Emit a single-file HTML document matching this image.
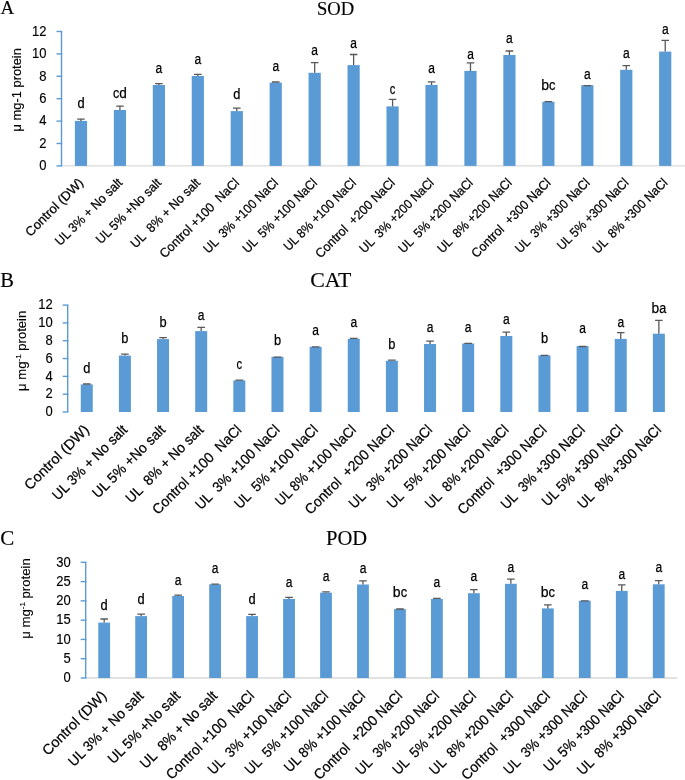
<!DOCTYPE html>
<html><head><meta charset="utf-8"><style>
html,body{margin:0;padding:0;background:#fff;}
body{width:685px;height:780px;overflow:hidden;}
svg{display:block;will-change:transform;}
svg text{font-family:"Liberation Sans", sans-serif;fill:#000;white-space:pre;stroke:#000;stroke-width:0.15px;}
svg text.serif{font-family:"Liberation Serif", serif;}
svg text.xl{stroke-width:0.25px;}
svg text.lt{stroke-width:0.25px;}
</style></head><body>
<svg width="685" height="780" viewBox="0 0 685 780">
<text x="0.5" y="13.9" class="serif" font-size="19">A</text>
<text x="317.0" y="14.5" class="serif" font-size="19.5" textLength="37.2" lengthAdjust="spacingAndGlyphs">SOD</text>
<line x1="61.5" y1="165.9" x2="685" y2="165.9" stroke="#D9D9D9" stroke-width="1.3"/>
<rect x="74.88" y="120.9" width="12.2" height="45.00" fill="#5B9BD5"/>
<path d="M80.97 120.9 V119.10 M77.17 119.10 H84.77" stroke="#595959" stroke-width="1.3" fill="none"/>
<text x="80.97" y="108.10" text-anchor="middle" class="lt" font-size="13.5" textLength="7.15" lengthAdjust="spacingAndGlyphs"><tspan font-size="15.3">d</tspan></text>
<rect x="113.83" y="110" width="12.2" height="55.90" fill="#5B9BD5"/>
<path d="M119.93 110 V106.10 M116.13 106.10 H123.73" stroke="#595959" stroke-width="1.3" fill="none"/>
<text x="119.93" y="97.60" text-anchor="middle" class="lt" font-size="13.5" textLength="13.80" lengthAdjust="spacingAndGlyphs"><tspan font-size="14">c</tspan><tspan font-size="15.3">d</tspan></text>
<rect x="152.78" y="85" width="12.2" height="80.90" fill="#5B9BD5"/>
<path d="M158.88 85 V83.60 M155.07 83.60 H162.68" stroke="#595959" stroke-width="1.3" fill="none"/>
<text x="158.88" y="73.10" text-anchor="middle" class="lt" font-size="13.5" textLength="6.69" lengthAdjust="spacingAndGlyphs"><tspan font-size="14">a</tspan></text>
<rect x="191.73" y="76" width="12.2" height="89.90" fill="#5B9BD5"/>
<path d="M197.83 76 V74.30 M194.03 74.30 H201.63" stroke="#595959" stroke-width="1.3" fill="none"/>
<text x="197.83" y="63.90" text-anchor="middle" class="lt" font-size="13.5" textLength="6.69" lengthAdjust="spacingAndGlyphs"><tspan font-size="14">a</tspan></text>
<rect x="230.68" y="111.1" width="12.2" height="54.80" fill="#5B9BD5"/>
<path d="M236.78 111.1 V108.20 M232.97 108.20 H240.58" stroke="#595959" stroke-width="1.3" fill="none"/>
<text x="236.78" y="99.10" text-anchor="middle" class="lt" font-size="13.5" textLength="7.15" lengthAdjust="spacingAndGlyphs"><tspan font-size="15.3">d</tspan></text>
<rect x="269.62" y="82.6" width="12.2" height="83.30" fill="#5B9BD5"/>
<path d="M275.73 82.6 V82.00 M271.93 82.00 H279.53" stroke="#595959" stroke-width="1.3" fill="none"/>
<text x="275.73" y="70.60" text-anchor="middle" class="lt" font-size="13.5" textLength="6.69" lengthAdjust="spacingAndGlyphs"><tspan font-size="14">a</tspan></text>
<rect x="308.57" y="72.8" width="12.2" height="93.10" fill="#5B9BD5"/>
<path d="M314.68 72.8 V62.60 M310.88 62.60 H318.48" stroke="#595959" stroke-width="1.3" fill="none"/>
<text x="314.68" y="55.40" text-anchor="middle" class="lt" font-size="13.5" textLength="6.69" lengthAdjust="spacingAndGlyphs"><tspan font-size="14">a</tspan></text>
<rect x="347.52" y="65.1" width="12.2" height="100.80" fill="#5B9BD5"/>
<path d="M353.62 65.1 V54.50 M349.82 54.50 H357.43" stroke="#595959" stroke-width="1.3" fill="none"/>
<text x="353.62" y="48.00" text-anchor="middle" class="lt" font-size="13.5" textLength="6.69" lengthAdjust="spacingAndGlyphs"><tspan font-size="14">a</tspan></text>
<rect x="386.48" y="106.4" width="12.2" height="59.50" fill="#5B9BD5"/>
<path d="M392.58 106.4 V99.30 M388.78 99.30 H396.38" stroke="#595959" stroke-width="1.3" fill="none"/>
<text x="392.58" y="94.00" text-anchor="middle" class="lt" font-size="13.5" textLength="5.60" lengthAdjust="spacingAndGlyphs"><tspan font-size="14">c</tspan></text>
<rect x="425.43" y="84.9" width="12.2" height="81.00" fill="#5B9BD5"/>
<path d="M431.53 84.9 V81.80 M427.73 81.80 H435.33" stroke="#595959" stroke-width="1.3" fill="none"/>
<text x="431.53" y="73.00" text-anchor="middle" class="lt" font-size="13.5" textLength="6.69" lengthAdjust="spacingAndGlyphs"><tspan font-size="14">a</tspan></text>
<rect x="464.38" y="70.9" width="12.2" height="95.00" fill="#5B9BD5"/>
<path d="M470.48 70.9 V62.90 M466.68 62.90 H474.28" stroke="#595959" stroke-width="1.3" fill="none"/>
<text x="470.48" y="58.70" text-anchor="middle" class="lt" font-size="13.5" textLength="6.69" lengthAdjust="spacingAndGlyphs"><tspan font-size="14">a</tspan></text>
<rect x="503.32" y="55" width="12.2" height="110.90" fill="#5B9BD5"/>
<path d="M509.43 55 V51.00 M505.62 51.00 H513.23" stroke="#595959" stroke-width="1.3" fill="none"/>
<text x="509.43" y="42.60" text-anchor="middle" class="lt" font-size="13.5" textLength="6.69" lengthAdjust="spacingAndGlyphs"><tspan font-size="14">a</tspan></text>
<rect x="542.27" y="101.8" width="12.2" height="64.10" fill="#5B9BD5"/>
<path d="M548.38 101.8 V101.70 M544.58 101.70 H552.17" stroke="#595959" stroke-width="1.3" fill="none"/>
<text x="548.38" y="89.60" text-anchor="middle" class="lt" font-size="13.5" textLength="14.27" lengthAdjust="spacingAndGlyphs"><tspan font-size="15.3">b</tspan><tspan font-size="14">c</tspan></text>
<rect x="581.23" y="85.2" width="12.2" height="80.70" fill="#5B9BD5"/>
<path d="M587.33 85.2 V85.60 M583.53 85.60 H591.12" stroke="#595959" stroke-width="1.3" fill="none"/>
<text x="587.33" y="78.80" text-anchor="middle" class="lt" font-size="13.5" textLength="6.69" lengthAdjust="spacingAndGlyphs"><tspan font-size="14">a</tspan></text>
<rect x="620.18" y="69.8" width="12.2" height="96.10" fill="#5B9BD5"/>
<path d="M626.28 69.8 V65.70 M622.48 65.70 H630.08" stroke="#595959" stroke-width="1.3" fill="none"/>
<text x="626.28" y="57.80" text-anchor="middle" class="lt" font-size="13.5" textLength="6.69" lengthAdjust="spacingAndGlyphs"><tspan font-size="14">a</tspan></text>
<rect x="659.12" y="51.6" width="12.2" height="114.30" fill="#5B9BD5"/>
<path d="M665.23 51.6 V40.30 M661.43 40.30 H669.02" stroke="#595959" stroke-width="1.3" fill="none"/>
<text x="665.23" y="34.20" text-anchor="middle" class="lt" font-size="13.5" textLength="6.69" lengthAdjust="spacingAndGlyphs"><tspan font-size="14">a</tspan></text>
<line x1="61.5" y1="31.5" x2="61.5" y2="165.9" stroke="#5B9BD5" stroke-width="1.4"/>
<line x1="56.5" y1="165.90" x2="62.2" y2="165.90" stroke="#5B9BD5" stroke-width="1.4"/>
<text x="46.5" y="170.10" text-anchor="end" font-size="14" textLength="7.23" lengthAdjust="spacingAndGlyphs">0</text>
<line x1="56.5" y1="143.50" x2="62.2" y2="143.50" stroke="#5B9BD5" stroke-width="1.4"/>
<text x="46.5" y="147.70" text-anchor="end" font-size="14" textLength="7.23" lengthAdjust="spacingAndGlyphs">2</text>
<line x1="56.5" y1="121.10" x2="62.2" y2="121.10" stroke="#5B9BD5" stroke-width="1.4"/>
<text x="46.5" y="125.30" text-anchor="end" font-size="14" textLength="7.23" lengthAdjust="spacingAndGlyphs">4</text>
<line x1="56.5" y1="98.70" x2="62.2" y2="98.70" stroke="#5B9BD5" stroke-width="1.4"/>
<text x="46.5" y="102.90" text-anchor="end" font-size="14" textLength="7.23" lengthAdjust="spacingAndGlyphs">6</text>
<line x1="56.5" y1="76.30" x2="62.2" y2="76.30" stroke="#5B9BD5" stroke-width="1.4"/>
<text x="46.5" y="80.50" text-anchor="end" font-size="14" textLength="7.23" lengthAdjust="spacingAndGlyphs">8</text>
<line x1="56.5" y1="53.90" x2="62.2" y2="53.90" stroke="#5B9BD5" stroke-width="1.4"/>
<text x="46.5" y="58.10" text-anchor="end" font-size="14" textLength="14.46" lengthAdjust="spacingAndGlyphs">10</text>
<line x1="56.5" y1="31.50" x2="62.2" y2="31.50" stroke="#5B9BD5" stroke-width="1.4"/>
<text x="46.5" y="35.70" text-anchor="end" font-size="14" textLength="14.46" lengthAdjust="spacingAndGlyphs">12</text>
<text transform="translate(21.3,89.8) rotate(-90)" text-anchor="middle" font-size="12.9">μ mg-1 protein</text>
<text transform="translate(84.17,183.5) rotate(-45)" class="xl" text-anchor="end" font-size="12.9" textLength="75.91" lengthAdjust="spacingAndGlyphs" xml:space="preserve">Control (DW)</text>
<text transform="translate(123.13,183.5) rotate(-45)" class="xl" text-anchor="end" font-size="12.9" textLength="88.79" lengthAdjust="spacingAndGlyphs" xml:space="preserve">UL 3% + No salt</text>
<text transform="translate(162.07,183.5) rotate(-45)" class="xl" text-anchor="end" font-size="12.9" textLength="86.27" lengthAdjust="spacingAndGlyphs" xml:space="preserve">UL 5% +No salt</text>
<text transform="translate(201.03,183.5) rotate(-45)" class="xl" text-anchor="end" font-size="12.9" textLength="92.37" lengthAdjust="spacingAndGlyphs" xml:space="preserve">UL  8% + No salt</text>
<text transform="translate(239.97,183.5) rotate(-45)" class="xl" text-anchor="end" font-size="12.9" textLength="106.46" lengthAdjust="spacingAndGlyphs" xml:space="preserve">Control +100  NaCl</text>
<text transform="translate(278.93,183.5) rotate(-45)" class="xl" text-anchor="end" font-size="12.9" textLength="99.59" lengthAdjust="spacingAndGlyphs" xml:space="preserve">UL  3% +100 NaCl</text>
<text transform="translate(317.88,183.5) rotate(-45)" class="xl" text-anchor="end" font-size="12.9" textLength="99.23" lengthAdjust="spacingAndGlyphs" xml:space="preserve">UL  5% +100 NaCl</text>
<text transform="translate(356.82,183.5) rotate(-45)" class="xl" text-anchor="end" font-size="12.9" textLength="96.34" lengthAdjust="spacingAndGlyphs" xml:space="preserve">UL 8% +100 NaCl</text>
<text transform="translate(395.78,183.5) rotate(-45)" class="xl" text-anchor="end" font-size="12.9" textLength="106.46" lengthAdjust="spacingAndGlyphs" xml:space="preserve">Control  +200 NaCl</text>
<text transform="translate(434.73,183.5) rotate(-45)" class="xl" text-anchor="end" font-size="12.9" textLength="99.30" lengthAdjust="spacingAndGlyphs" xml:space="preserve">UL  3% +200 NaCl</text>
<text transform="translate(473.68,183.5) rotate(-45)" class="xl" text-anchor="end" font-size="12.9" textLength="99.23" lengthAdjust="spacingAndGlyphs" xml:space="preserve">UL  5% +200 NaCl</text>
<text transform="translate(512.62,183.5) rotate(-45)" class="xl" text-anchor="end" font-size="12.9" textLength="99.30" lengthAdjust="spacingAndGlyphs" xml:space="preserve">UL  8% +200 NaCl</text>
<text transform="translate(551.58,183.5) rotate(-45)" class="xl" text-anchor="end" font-size="12.9" textLength="106.11" lengthAdjust="spacingAndGlyphs" xml:space="preserve">Control  +300 NaCl</text>
<text transform="translate(590.53,183.5) rotate(-45)" class="xl" text-anchor="end" font-size="12.9" textLength="99.30" lengthAdjust="spacingAndGlyphs" xml:space="preserve">UL  3% +300 NaCl</text>
<text transform="translate(629.48,183.5) rotate(-45)" class="xl" text-anchor="end" font-size="12.9" textLength="95.21" lengthAdjust="spacingAndGlyphs" xml:space="preserve">UL 5% +300 NaCl</text>
<text transform="translate(668.43,183.5) rotate(-45)" class="xl" text-anchor="end" font-size="12.9" textLength="99.94" lengthAdjust="spacingAndGlyphs" xml:space="preserve">UL  8% +300 NaCl</text>
<text x="0.3" y="286.8" class="serif" font-size="20.5">B</text>
<text x="310.2" y="287.4" class="serif" font-size="20" textLength="41.2" lengthAdjust="spacingAndGlyphs">CAT</text>
<rect x="80.77" y="384.4" width="12" height="27.60" fill="#5B9BD5"/>
<path d="M86.77 384.4 V384.00 M82.97 384.00 H90.57" stroke="#595959" stroke-width="1.3" fill="none"/>
<text x="86.77" y="372.60" text-anchor="middle" class="lt" font-size="13.5" textLength="7.15" lengthAdjust="spacingAndGlyphs"><tspan font-size="15.3">d</tspan></text>
<rect x="118.91" y="355.6" width="12" height="56.40" fill="#5B9BD5"/>
<path d="M124.91 355.6 V354.10 M121.11 354.10 H128.71" stroke="#595959" stroke-width="1.3" fill="none"/>
<text x="124.91" y="343.40" text-anchor="middle" class="lt" font-size="13.5" textLength="7.15" lengthAdjust="spacingAndGlyphs"><tspan font-size="15.3">b</tspan></text>
<rect x="157.05" y="339.1" width="12" height="72.90" fill="#5B9BD5"/>
<path d="M163.05 339.1 V337.60 M159.25 337.60 H166.85" stroke="#595959" stroke-width="1.3" fill="none"/>
<text x="163.05" y="327.10" text-anchor="middle" class="lt" font-size="13.5" textLength="7.15" lengthAdjust="spacingAndGlyphs"><tspan font-size="15.3">b</tspan></text>
<rect x="195.19" y="331.1" width="12" height="80.90" fill="#5B9BD5"/>
<path d="M201.19 331.1 V327.30 M197.39 327.30 H204.99" stroke="#595959" stroke-width="1.3" fill="none"/>
<text x="201.19" y="319.60" text-anchor="middle" class="lt" font-size="13.5" textLength="6.69" lengthAdjust="spacingAndGlyphs"><tspan font-size="14">a</tspan></text>
<rect x="233.33" y="380.4" width="12" height="31.60" fill="#5B9BD5"/>
<path d="M239.33 380.4 V380.10 M235.53 380.10 H243.13" stroke="#595959" stroke-width="1.3" fill="none"/>
<text x="239.33" y="368.70" text-anchor="middle" class="lt" font-size="13.5" textLength="5.60" lengthAdjust="spacingAndGlyphs"><tspan font-size="14">c</tspan></text>
<rect x="271.47" y="356.8" width="12" height="55.20" fill="#5B9BD5"/>
<path d="M277.47 356.8 V357.20 M273.67 357.20 H281.27" stroke="#595959" stroke-width="1.3" fill="none"/>
<text x="277.47" y="344.80" text-anchor="middle" class="lt" font-size="13.5" textLength="7.15" lengthAdjust="spacingAndGlyphs"><tspan font-size="15.3">b</tspan></text>
<rect x="309.61" y="346.8" width="12" height="65.20" fill="#5B9BD5"/>
<path d="M315.61 346.8 V346.90 M311.81 346.90 H319.41" stroke="#595959" stroke-width="1.3" fill="none"/>
<text x="315.61" y="335.20" text-anchor="middle" class="lt" font-size="13.5" textLength="6.69" lengthAdjust="spacingAndGlyphs"><tspan font-size="14">a</tspan></text>
<rect x="347.75" y="338.8" width="12" height="73.20" fill="#5B9BD5"/>
<path d="M353.75 338.8 V338.30 M349.95 338.30 H357.55" stroke="#595959" stroke-width="1.3" fill="none"/>
<text x="353.75" y="327.10" text-anchor="middle" class="lt" font-size="13.5" textLength="6.69" lengthAdjust="spacingAndGlyphs"><tspan font-size="14">a</tspan></text>
<rect x="385.89" y="360.8" width="12" height="51.20" fill="#5B9BD5"/>
<path d="M391.89 360.8 V360.20 M388.09 360.20 H395.69" stroke="#595959" stroke-width="1.3" fill="none"/>
<text x="391.89" y="348.80" text-anchor="middle" class="lt" font-size="13.5" textLength="7.15" lengthAdjust="spacingAndGlyphs"><tspan font-size="15.3">b</tspan></text>
<rect x="424.03" y="344" width="12" height="68.00" fill="#5B9BD5"/>
<path d="M430.03 344 V341.10 M426.23 341.10 H433.83" stroke="#595959" stroke-width="1.3" fill="none"/>
<text x="430.03" y="331.70" text-anchor="middle" class="lt" font-size="13.5" textLength="6.69" lengthAdjust="spacingAndGlyphs"><tspan font-size="14">a</tspan></text>
<rect x="462.17" y="343.5" width="12" height="68.50" fill="#5B9BD5"/>
<path d="M468.17 343.5 V343.40 M464.37 343.40 H471.97" stroke="#595959" stroke-width="1.3" fill="none"/>
<text x="468.17" y="331.70" text-anchor="middle" class="lt" font-size="13.5" textLength="6.69" lengthAdjust="spacingAndGlyphs"><tspan font-size="14">a</tspan></text>
<rect x="500.31" y="336" width="12" height="76.00" fill="#5B9BD5"/>
<path d="M506.31 336 V332.20 M502.51 332.20 H510.11" stroke="#595959" stroke-width="1.3" fill="none"/>
<text x="506.31" y="324.00" text-anchor="middle" class="lt" font-size="13.5" textLength="6.69" lengthAdjust="spacingAndGlyphs"><tspan font-size="14">a</tspan></text>
<rect x="538.45" y="355.4" width="12" height="56.60" fill="#5B9BD5"/>
<path d="M544.45 355.4 V355.30 M540.65 355.30 H548.25" stroke="#595959" stroke-width="1.3" fill="none"/>
<text x="544.45" y="343.20" text-anchor="middle" class="lt" font-size="13.5" textLength="7.15" lengthAdjust="spacingAndGlyphs"><tspan font-size="15.3">b</tspan></text>
<rect x="576.59" y="346.1" width="12" height="65.90" fill="#5B9BD5"/>
<path d="M582.59 346.1 V346.50 M578.79 346.50 H586.39" stroke="#595959" stroke-width="1.3" fill="none"/>
<text x="582.59" y="333.40" text-anchor="middle" class="lt" font-size="13.5" textLength="6.69" lengthAdjust="spacingAndGlyphs"><tspan font-size="14">a</tspan></text>
<rect x="614.73" y="338.9" width="12" height="73.10" fill="#5B9BD5"/>
<path d="M620.73 338.9 V332.70 M616.93 332.70 H624.53" stroke="#595959" stroke-width="1.3" fill="none"/>
<text x="620.73" y="326.90" text-anchor="middle" class="lt" font-size="13.5" textLength="6.69" lengthAdjust="spacingAndGlyphs"><tspan font-size="14">a</tspan></text>
<rect x="652.87" y="333.7" width="12" height="78.30" fill="#5B9BD5"/>
<path d="M658.87 333.7 V320.30 M655.07 320.30 H662.67" stroke="#595959" stroke-width="1.3" fill="none"/>
<text x="658.87" y="313.10" text-anchor="middle" class="lt" font-size="13.5" textLength="14.66" lengthAdjust="spacingAndGlyphs"><tspan font-size="15.3">b</tspan><tspan font-size="14">a</tspan></text>
<line x1="67.7" y1="305.1" x2="67.7" y2="412" stroke="#5B9BD5" stroke-width="1.4"/>
<line x1="62.7" y1="412.00" x2="68.4" y2="412.00" stroke="#5B9BD5" stroke-width="1.4"/>
<text x="52.7" y="416.20" text-anchor="end" font-size="14" textLength="7.23" lengthAdjust="spacingAndGlyphs">0</text>
<line x1="62.7" y1="394.18" x2="68.4" y2="394.18" stroke="#5B9BD5" stroke-width="1.4"/>
<text x="52.7" y="398.38" text-anchor="end" font-size="14" textLength="7.23" lengthAdjust="spacingAndGlyphs">2</text>
<line x1="62.7" y1="376.37" x2="68.4" y2="376.37" stroke="#5B9BD5" stroke-width="1.4"/>
<text x="52.7" y="380.57" text-anchor="end" font-size="14" textLength="7.23" lengthAdjust="spacingAndGlyphs">4</text>
<line x1="62.7" y1="358.55" x2="68.4" y2="358.55" stroke="#5B9BD5" stroke-width="1.4"/>
<text x="52.7" y="362.75" text-anchor="end" font-size="14" textLength="7.23" lengthAdjust="spacingAndGlyphs">6</text>
<line x1="62.7" y1="340.73" x2="68.4" y2="340.73" stroke="#5B9BD5" stroke-width="1.4"/>
<text x="52.7" y="344.93" text-anchor="end" font-size="14" textLength="7.23" lengthAdjust="spacingAndGlyphs">8</text>
<line x1="62.7" y1="322.92" x2="68.4" y2="322.92" stroke="#5B9BD5" stroke-width="1.4"/>
<text x="52.7" y="327.12" text-anchor="end" font-size="14" textLength="14.46" lengthAdjust="spacingAndGlyphs">10</text>
<line x1="62.7" y1="305.10" x2="68.4" y2="305.10" stroke="#5B9BD5" stroke-width="1.4"/>
<text x="52.7" y="309.30" text-anchor="end" font-size="14" textLength="14.46" lengthAdjust="spacingAndGlyphs">12</text>
<text transform="translate(25.6,350.8) rotate(-90)" text-anchor="middle" font-size="13.1">μ mg<tspan dy="-5" font-size="8">-1</tspan><tspan dy="5"> protein</tspan></text>
<text transform="translate(89.97,430.7) rotate(-45)" class="xl" text-anchor="end" font-size="14.3" textLength="84.82" lengthAdjust="spacingAndGlyphs" xml:space="preserve">Control (DW)</text>
<text transform="translate(128.11,430.7) rotate(-45)" class="xl" text-anchor="end" font-size="14.3" textLength="99.28" lengthAdjust="spacingAndGlyphs" xml:space="preserve">UL 3% + No salt</text>
<text transform="translate(166.25,430.7) rotate(-45)" class="xl" text-anchor="end" font-size="14.3" textLength="96.37" lengthAdjust="spacingAndGlyphs" xml:space="preserve">UL 5% +No salt</text>
<text transform="translate(204.39,430.7) rotate(-45)" class="xl" text-anchor="end" font-size="14.3" textLength="103.27" lengthAdjust="spacingAndGlyphs" xml:space="preserve">UL  8% + No salt</text>
<text transform="translate(242.53,430.7) rotate(-45)" class="xl" text-anchor="end" font-size="14.3" textLength="119.51" lengthAdjust="spacingAndGlyphs" xml:space="preserve">Control +100  NaCl</text>
<text transform="translate(280.67,430.7) rotate(-45)" class="xl" text-anchor="end" font-size="14.3" textLength="112.62" lengthAdjust="spacingAndGlyphs" xml:space="preserve">UL  3% +100 NaCl</text>
<text transform="translate(318.81,430.7) rotate(-45)" class="xl" text-anchor="end" font-size="14.3" textLength="111.56" lengthAdjust="spacingAndGlyphs" xml:space="preserve">UL  5% +100 NaCl</text>
<text transform="translate(356.95,430.7) rotate(-45)" class="xl" text-anchor="end" font-size="14.3" textLength="107.24" lengthAdjust="spacingAndGlyphs" xml:space="preserve">UL 8% +100 NaCl</text>
<text transform="translate(395.09,430.7) rotate(-45)" class="xl" text-anchor="end" font-size="14.3" textLength="119.51" lengthAdjust="spacingAndGlyphs" xml:space="preserve">Control  +200 NaCl</text>
<text transform="translate(433.23,430.7) rotate(-45)" class="xl" text-anchor="end" font-size="14.3" textLength="111.21" lengthAdjust="spacingAndGlyphs" xml:space="preserve">UL  3% +200 NaCl</text>
<text transform="translate(471.37,430.7) rotate(-45)" class="xl" text-anchor="end" font-size="14.3" textLength="111.21" lengthAdjust="spacingAndGlyphs" xml:space="preserve">UL  5% +200 NaCl</text>
<text transform="translate(509.51,430.7) rotate(-45)" class="xl" text-anchor="end" font-size="14.3" textLength="111.49" lengthAdjust="spacingAndGlyphs" xml:space="preserve">UL  8% +200 NaCl</text>
<text transform="translate(547.65,430.7) rotate(-45)" class="xl" text-anchor="end" font-size="14.3" textLength="119.51" lengthAdjust="spacingAndGlyphs" xml:space="preserve">Control  +300 NaCl</text>
<text transform="translate(585.79,430.7) rotate(-45)" class="xl" text-anchor="end" font-size="14.3" textLength="112.27" lengthAdjust="spacingAndGlyphs" xml:space="preserve">UL  3% +300 NaCl</text>
<text transform="translate(623.93,430.7) rotate(-45)" class="xl" text-anchor="end" font-size="14.3" textLength="107.95" lengthAdjust="spacingAndGlyphs" xml:space="preserve">UL 5% +300 NaCl</text>
<text transform="translate(662.07,430.7) rotate(-45)" class="xl" text-anchor="end" font-size="14.3" textLength="111.56" lengthAdjust="spacingAndGlyphs" xml:space="preserve">UL  8% +300 NaCl</text>
<text x="0.2" y="544.9" class="serif" font-size="21">C</text>
<text x="326.0" y="545" class="serif" font-size="20" textLength="41.2" lengthAdjust="spacingAndGlyphs">POD</text>
<line x1="85.7" y1="678" x2="677.3" y2="678" stroke="#D9D9D9" stroke-width="1.3"/>
<rect x="98.28" y="622.6" width="11.8" height="55.40" fill="#5B9BD5"/>
<path d="M104.19 622.6 V619.00 M100.39 619.00 H107.98" stroke="#595959" stroke-width="1.3" fill="none"/>
<text x="104.19" y="610.40" text-anchor="middle" class="lt" font-size="13.5" textLength="7.15" lengthAdjust="spacingAndGlyphs"><tspan font-size="15.3">d</tspan></text>
<rect x="135.25" y="616.1" width="11.8" height="61.90" fill="#5B9BD5"/>
<path d="M141.16 616.1 V614.10 M137.35 614.10 H144.96" stroke="#595959" stroke-width="1.3" fill="none"/>
<text x="141.16" y="604.10" text-anchor="middle" class="lt" font-size="13.5" textLength="7.15" lengthAdjust="spacingAndGlyphs"><tspan font-size="15.3">d</tspan></text>
<rect x="172.22" y="596" width="11.8" height="82.00" fill="#5B9BD5"/>
<path d="M178.12 596 V595.20 M174.32 595.20 H181.93" stroke="#595959" stroke-width="1.3" fill="none"/>
<text x="178.12" y="584.50" text-anchor="middle" class="lt" font-size="13.5" textLength="6.69" lengthAdjust="spacingAndGlyphs"><tspan font-size="14">a</tspan></text>
<rect x="209.19" y="584.3" width="11.8" height="93.70" fill="#5B9BD5"/>
<path d="M215.09 584.3 V584.20 M211.29 584.20 H218.89" stroke="#595959" stroke-width="1.3" fill="none"/>
<text x="215.09" y="573.00" text-anchor="middle" class="lt" font-size="13.5" textLength="6.69" lengthAdjust="spacingAndGlyphs"><tspan font-size="14">a</tspan></text>
<rect x="246.16" y="616.1" width="11.8" height="61.90" fill="#5B9BD5"/>
<path d="M252.06 616.1 V614.30 M248.26 614.30 H255.87" stroke="#595959" stroke-width="1.3" fill="none"/>
<text x="252.06" y="604.10" text-anchor="middle" class="lt" font-size="13.5" textLength="7.15" lengthAdjust="spacingAndGlyphs"><tspan font-size="15.3">d</tspan></text>
<rect x="283.13" y="599" width="11.8" height="79.00" fill="#5B9BD5"/>
<path d="M289.03 599 V597.30 M285.23 597.30 H292.83" stroke="#595959" stroke-width="1.3" fill="none"/>
<text x="289.03" y="587.30" text-anchor="middle" class="lt" font-size="13.5" textLength="6.69" lengthAdjust="spacingAndGlyphs"><tspan font-size="14">a</tspan></text>
<rect x="320.11" y="592.7" width="11.8" height="85.30" fill="#5B9BD5"/>
<path d="M326.00 592.7 V591.90 M322.20 591.90 H329.81" stroke="#595959" stroke-width="1.3" fill="none"/>
<text x="326.00" y="581.00" text-anchor="middle" class="lt" font-size="13.5" textLength="6.69" lengthAdjust="spacingAndGlyphs"><tspan font-size="14">a</tspan></text>
<rect x="357.07" y="584.5" width="11.8" height="93.50" fill="#5B9BD5"/>
<path d="M362.97 584.5 V580.90 M359.17 580.90 H366.77" stroke="#595959" stroke-width="1.3" fill="none"/>
<text x="362.97" y="572.80" text-anchor="middle" class="lt" font-size="13.5" textLength="6.69" lengthAdjust="spacingAndGlyphs"><tspan font-size="14">a</tspan></text>
<rect x="394.05" y="609.1" width="11.8" height="68.90" fill="#5B9BD5"/>
<path d="M399.94 609.1 V609.00 M396.14 609.00 H403.75" stroke="#595959" stroke-width="1.3" fill="none"/>
<text x="399.94" y="597.10" text-anchor="middle" class="lt" font-size="13.5" textLength="14.27" lengthAdjust="spacingAndGlyphs"><tspan font-size="15.3">b</tspan><tspan font-size="14">c</tspan></text>
<rect x="431.01" y="599" width="11.8" height="79.00" fill="#5B9BD5"/>
<path d="M436.91 599 V598.40 M433.11 598.40 H440.71" stroke="#595959" stroke-width="1.3" fill="none"/>
<text x="436.91" y="587.00" text-anchor="middle" class="lt" font-size="13.5" textLength="6.69" lengthAdjust="spacingAndGlyphs"><tspan font-size="14">a</tspan></text>
<rect x="467.99" y="593.2" width="11.8" height="84.80" fill="#5B9BD5"/>
<path d="M473.88 593.2 V589.60 M470.08 589.60 H477.69" stroke="#595959" stroke-width="1.3" fill="none"/>
<text x="473.88" y="581.40" text-anchor="middle" class="lt" font-size="13.5" textLength="6.69" lengthAdjust="spacingAndGlyphs"><tspan font-size="14">a</tspan></text>
<rect x="504.95" y="583.8" width="11.8" height="94.20" fill="#5B9BD5"/>
<path d="M510.85 583.8 V579.10 M507.05 579.10 H514.65" stroke="#595959" stroke-width="1.3" fill="none"/>
<text x="510.85" y="572.10" text-anchor="middle" class="lt" font-size="13.5" textLength="6.69" lengthAdjust="spacingAndGlyphs"><tspan font-size="14">a</tspan></text>
<rect x="541.93" y="608.4" width="11.8" height="69.60" fill="#5B9BD5"/>
<path d="M547.83 608.4 V604.80 M544.03 604.80 H551.62" stroke="#595959" stroke-width="1.3" fill="none"/>
<text x="547.83" y="596.90" text-anchor="middle" class="lt" font-size="13.5" textLength="14.27" lengthAdjust="spacingAndGlyphs"><tspan font-size="15.3">b</tspan><tspan font-size="14">c</tspan></text>
<rect x="578.89" y="600.7" width="11.8" height="77.30" fill="#5B9BD5"/>
<path d="M584.79 600.7 V600.80 M581.00 600.80 H588.59" stroke="#595959" stroke-width="1.3" fill="none"/>
<text x="584.79" y="588.70" text-anchor="middle" class="lt" font-size="13.5" textLength="6.69" lengthAdjust="spacingAndGlyphs"><tspan font-size="14">a</tspan></text>
<rect x="615.87" y="590.9" width="11.8" height="87.10" fill="#5B9BD5"/>
<path d="M621.76 590.9 V584.90 M617.97 584.90 H625.56" stroke="#595959" stroke-width="1.3" fill="none"/>
<text x="621.76" y="578.90" text-anchor="middle" class="lt" font-size="13.5" textLength="6.69" lengthAdjust="spacingAndGlyphs"><tspan font-size="14">a</tspan></text>
<rect x="652.84" y="584.3" width="11.8" height="93.70" fill="#5B9BD5"/>
<path d="M658.74 584.3 V580.70 M654.94 580.70 H662.53" stroke="#595959" stroke-width="1.3" fill="none"/>
<text x="658.74" y="572.10" text-anchor="middle" class="lt" font-size="13.5" textLength="6.69" lengthAdjust="spacingAndGlyphs"><tspan font-size="14">a</tspan></text>
<line x1="85.7" y1="562.3" x2="85.7" y2="678" stroke="#5B9BD5" stroke-width="1.4"/>
<line x1="80.7" y1="678.00" x2="86.4" y2="678.00" stroke="#5B9BD5" stroke-width="1.4"/>
<text x="70.7" y="682.20" text-anchor="end" font-size="14" textLength="7.23" lengthAdjust="spacingAndGlyphs">0</text>
<line x1="80.7" y1="658.72" x2="86.4" y2="658.72" stroke="#5B9BD5" stroke-width="1.4"/>
<text x="70.7" y="662.92" text-anchor="end" font-size="14" textLength="7.23" lengthAdjust="spacingAndGlyphs">5</text>
<line x1="80.7" y1="639.43" x2="86.4" y2="639.43" stroke="#5B9BD5" stroke-width="1.4"/>
<text x="70.7" y="643.63" text-anchor="end" font-size="14" textLength="14.46" lengthAdjust="spacingAndGlyphs">10</text>
<line x1="80.7" y1="620.15" x2="86.4" y2="620.15" stroke="#5B9BD5" stroke-width="1.4"/>
<text x="70.7" y="624.35" text-anchor="end" font-size="14" textLength="14.46" lengthAdjust="spacingAndGlyphs">15</text>
<line x1="80.7" y1="600.87" x2="86.4" y2="600.87" stroke="#5B9BD5" stroke-width="1.4"/>
<text x="70.7" y="605.07" text-anchor="end" font-size="14" textLength="14.46" lengthAdjust="spacingAndGlyphs">20</text>
<line x1="80.7" y1="581.58" x2="86.4" y2="581.58" stroke="#5B9BD5" stroke-width="1.4"/>
<text x="70.7" y="585.78" text-anchor="end" font-size="14" textLength="14.46" lengthAdjust="spacingAndGlyphs">25</text>
<line x1="80.7" y1="562.30" x2="86.4" y2="562.30" stroke="#5B9BD5" stroke-width="1.4"/>
<text x="70.7" y="566.50" text-anchor="end" font-size="14" textLength="14.46" lengthAdjust="spacingAndGlyphs">30</text>
<text transform="translate(30,598.5) rotate(-90)" text-anchor="middle" font-size="13.2">μ mg<tspan dy="-5" font-size="8">-1</tspan><tspan dy="5"> protein</tspan></text>
<text transform="translate(107.39,696.7) rotate(-45)" class="xl" text-anchor="end" font-size="14.3" textLength="84.11" lengthAdjust="spacingAndGlyphs" xml:space="preserve">Control (DW)</text>
<text transform="translate(144.35,696.7) rotate(-45)" class="xl" text-anchor="end" font-size="14.3" textLength="99.64" lengthAdjust="spacingAndGlyphs" xml:space="preserve">UL 3% + No salt</text>
<text transform="translate(181.32,696.7) rotate(-45)" class="xl" text-anchor="end" font-size="14.3" textLength="96.02" lengthAdjust="spacingAndGlyphs" xml:space="preserve">UL 5% +No salt</text>
<text transform="translate(218.29,696.7) rotate(-45)" class="xl" text-anchor="end" font-size="14.3" textLength="102.56" lengthAdjust="spacingAndGlyphs" xml:space="preserve">UL  8% + No salt</text>
<text transform="translate(255.26,696.7) rotate(-45)" class="xl" text-anchor="end" font-size="14.3" textLength="118.10" lengthAdjust="spacingAndGlyphs" xml:space="preserve">Control +100  NaCl</text>
<text transform="translate(292.23,696.7) rotate(-45)" class="xl" text-anchor="end" font-size="14.3" textLength="111.21" lengthAdjust="spacingAndGlyphs" xml:space="preserve">UL  3% +100 NaCl</text>
<text transform="translate(329.20,696.7) rotate(-45)" class="xl" text-anchor="end" font-size="14.3" textLength="111.21" lengthAdjust="spacingAndGlyphs" xml:space="preserve">UL  5% +100 NaCl</text>
<text transform="translate(366.17,696.7) rotate(-45)" class="xl" text-anchor="end" font-size="14.3" textLength="107.95" lengthAdjust="spacingAndGlyphs" xml:space="preserve">UL 8% +100 NaCl</text>
<text transform="translate(403.14,696.7) rotate(-45)" class="xl" text-anchor="end" font-size="14.3" textLength="118.45" lengthAdjust="spacingAndGlyphs" xml:space="preserve">Control  +200 NaCl</text>
<text transform="translate(440.11,696.7) rotate(-45)" class="xl" text-anchor="end" font-size="14.3" textLength="111.63" lengthAdjust="spacingAndGlyphs" xml:space="preserve">UL  3% +200 NaCl</text>
<text transform="translate(477.08,696.7) rotate(-45)" class="xl" text-anchor="end" font-size="14.3" textLength="111.56" lengthAdjust="spacingAndGlyphs" xml:space="preserve">UL  5% +200 NaCl</text>
<text transform="translate(514.05,696.7) rotate(-45)" class="xl" text-anchor="end" font-size="14.3" textLength="111.71" lengthAdjust="spacingAndGlyphs" xml:space="preserve">UL  8% +200 NaCl</text>
<text transform="translate(551.03,696.7) rotate(-45)" class="xl" text-anchor="end" font-size="14.3" textLength="118.80" lengthAdjust="spacingAndGlyphs" xml:space="preserve">Control  +300 NaCl</text>
<text transform="translate(588.00,696.7) rotate(-45)" class="xl" text-anchor="end" font-size="14.3" textLength="111.21" lengthAdjust="spacingAndGlyphs" xml:space="preserve">UL  3% +300 NaCl</text>
<text transform="translate(624.97,696.7) rotate(-45)" class="xl" text-anchor="end" font-size="14.3" textLength="107.24" lengthAdjust="spacingAndGlyphs" xml:space="preserve">UL 5% +300 NaCl</text>
<text transform="translate(661.94,696.7) rotate(-45)" class="xl" text-anchor="end" font-size="14.3" textLength="111.92" lengthAdjust="spacingAndGlyphs" xml:space="preserve">UL  8% +300 NaCl</text>
</svg>
</body></html>
